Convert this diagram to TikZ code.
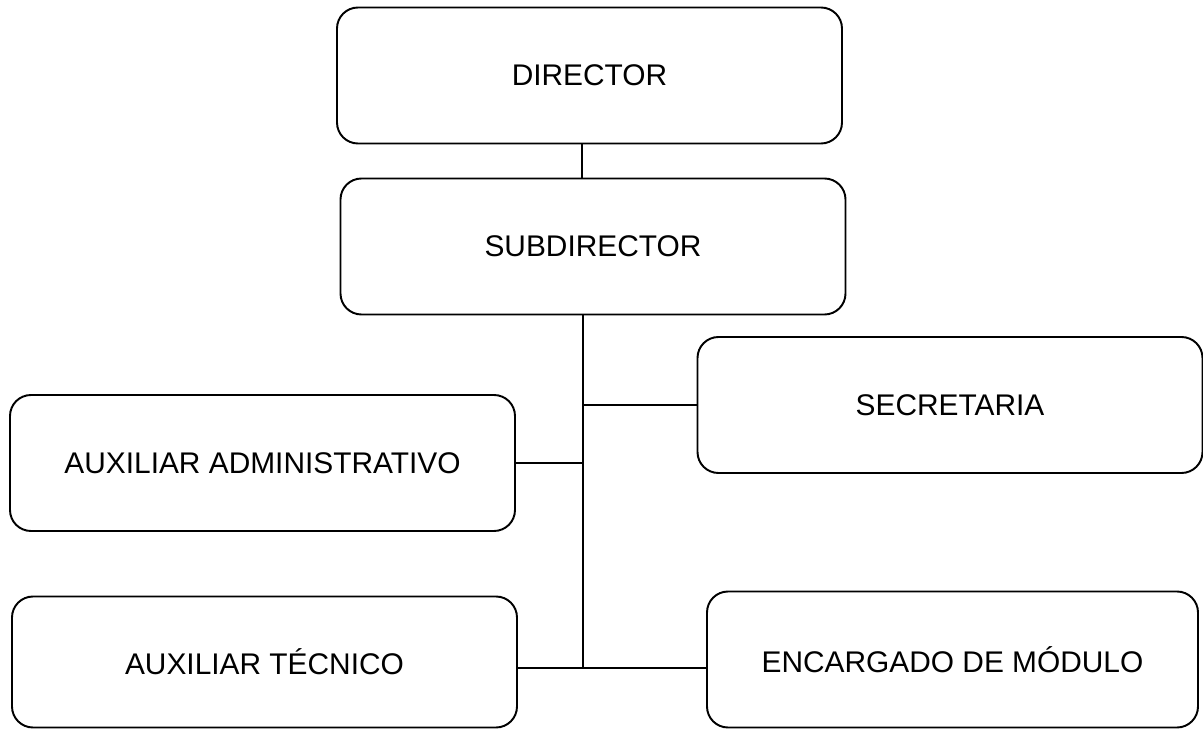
\documentclass[tikz,border=0pt]{standalone}
\usepackage{fontspec}
\setmainfont{Liberation Sans}
\usepackage{tikz}
\usetikzlibrary{
calc,
positioning,
}

\begin{document}
\begin{tikzpicture}[
	cargo/.style={draw, line width=1.1pt, rounded corners=0.42cm,
		minimum width=10.1cm, minimum height=2.72cm,
		font=\fontsize{17}{20}\selectfont},
	enlace/.style={line width=0.8pt},
	]
	\useasboundingbox (0,0) rectangle (24.06,-14.58);
	\coordinate(T) at (11.64,0);
	\coordinate(F) at (11.66,-13.36);

	\node[cargo] (dir) at (11.79,-1.51) {DIRECTOR};
	\node[cargo] (sub) at (11.86,-4.93) {SUBDIRECTOR};
	\node[cargo] (sec) at (19.00,-8.10) {SECRETARIA};
	\node[cargo] (adm) at (5.25,-9.26) {AUXILIAR ADMINISTRATIVO};
	\node[cargo, minimum height=2.62cm] (tec) at (5.29,-13.24) {AUXILIAR TÉCNICO};
	\node[cargo, minimum width=9.82cm] (mod) at (19.05,-13.19) {ENCARGADO DE MÓDULO};

	\draw[enlace] (dir.south -| T) -- (sub.north -| T);
	\draw[enlace] (sub.south -| F) -- (F);
	\draw[enlace] (sec.west) -- (sec.west -| F) (adm.east) -- (adm.east -| F);
	\draw[enlace] (tec.east |- F) -- (mod.west |- F);
\end{tikzpicture}
\end{document}
